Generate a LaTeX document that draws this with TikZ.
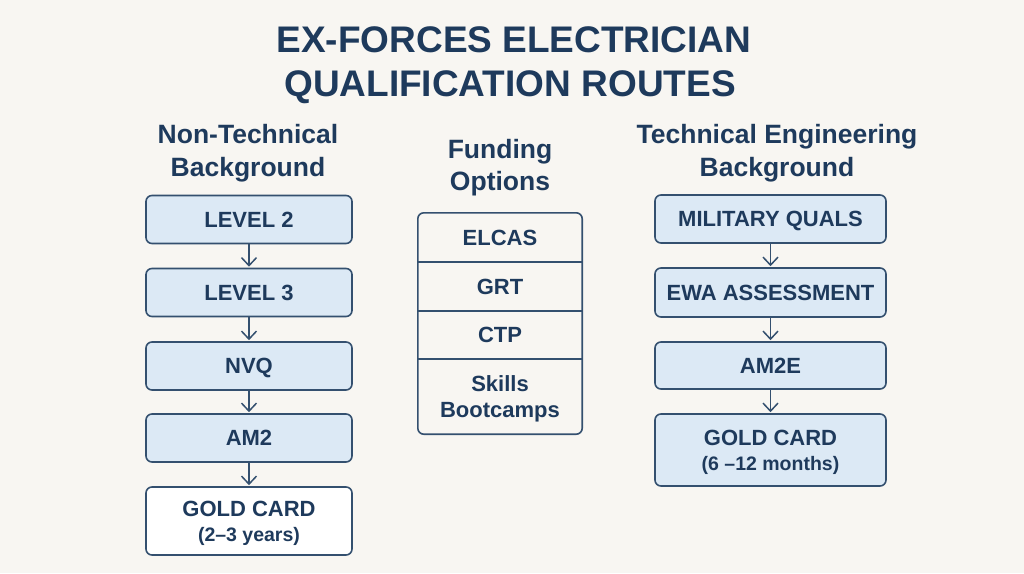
\documentclass[tikz,border=0pt]{standalone}
\usepackage{fontspec}
\setmainfont{Liberation Sans}
\usetikzlibrary{arrows.meta}
\definecolor{bg}{HTML}{F8F6F2}
\definecolor{navy}{HTML}{1E3A5C}
\definecolor{edge}{HTML}{34506F}
\definecolor{boxfill}{HTML}{DCE9F5}
\tikzset{
  x=1pt, y=-1pt,
  stepbox/.style={draw=edge, line width=1.6pt, rounded corners=6pt, fill=boxfill,
    text=navy, font=\fontsize{22}{24}\selectfont\bfseries, align=center, inner sep=0pt,
    text depth=0pt},
  whitebox/.style={stepbox, fill=white},
  fundrow/.style={text=navy, font=\fontsize{22}{26}\selectfont\bfseries, align=center,
    minimum width=164pt, inner sep=0pt, text depth=0pt},
  heading/.style={text=navy, font=\fontsize{26.5}{32.5}\selectfont\bfseries, align=center},
  titletext/.style={text=navy, font=\fontsize{37}{40}\selectfont\bfseries, anchor=base},
  flow/.style={draw=edge, line width=1.5pt, shorten >=1pt, -{Straight Barb[length=8pt,width=15pt,line width=1.5pt]}}
}
\newcommand{\subline}[1]{\\[1pt]{\fontsize{19.5}{22}\selectfont #1}}
\begin{document}
\begin{tikzpicture}
\fill[bg] (0,0) rectangle (1024,573);
\useasboundingbox (0,0) rectangle (1024,573);

\node[titletext] (t1) at (514,52.5) {EX-FORCES ELECTRICIAN};
\node[titletext] (t2) at (510,96) {QUALIFICATION ROUTES};

% left column
\node[heading] (hl) at (248,153) {Non-Technical\\Background};
\node[stepbox, minimum width=206pt, minimum height=48pt] (l1) at (249,219.5) {LEVEL 2};
\node[stepbox, minimum width=206pt, minimum height=48pt] (l2) at (249,292.5) {LEVEL 3};
\node[stepbox, minimum width=206pt, minimum height=48pt] (l3) at (249,366) {NVQ};
\node[stepbox, minimum width=206pt, minimum height=48pt] (l4) at (249,438) {AM2};
\node[whitebox, minimum width=206pt, minimum height=68pt] (l5) at (249,521) {GOLD CARD\subline{(2–3 years)}};
\draw[flow] (l1) -- (l2);
\draw[flow] (l2) -- (l3);
\draw[flow] (l3) -- (l4);
\draw[flow] (l4) -- (l5);

% middle
\node[heading] (hm) at (500,167.5) {Funding\\Options};
\node[fundrow, minimum height=49pt] (f1) at (500,237.5) {ELCAS};
\node[fundrow, minimum height=49pt] (f2) at (500,286.5) {GRT};
\node[fundrow, minimum height=48pt] (f3) at (500,335) {CTP};
\node[fundrow, minimum height=73pt] (f4) at (500,396.5) {Skills\\Bootcamps};
\draw[draw=edge, line width=1.6pt, rounded corners=6pt] (f1.north west) rectangle ([yshift=-1pt]f4.south east);
\draw[draw=edge, line width=1.6pt] (f1.south west) -- (f1.south east);
\draw[draw=edge, line width=1.6pt] (f2.south west) -- (f2.south east);
\draw[draw=edge, line width=1.6pt] (f3.south west) -- (f3.south east);

% right column
\node[heading] (hr) at (777,153) {Technical Engineering\\Background};
\node[stepbox, minimum width=231pt, minimum height=48pt] (r1) at (770.5,219) {MILITARY QUALS};
\node[stepbox, minimum width=231pt, minimum height=49pt] (r2) at (770.5,292.5) {EWA ASSESSMENT};
\node[stepbox, minimum width=231pt, minimum height=47pt] (r3) at (770.5,365.5) {AM2E};
\node[stepbox, minimum width=231pt, minimum height=72pt] (r4) at (770.5,450) {GOLD CARD\subline{(6 –12 months)}};
\draw[flow] (r1) -- (r2);
\draw[flow] (r2) -- (r3);
\draw[flow] (r3) -- (r4);
\end{tikzpicture}
\end{document}
